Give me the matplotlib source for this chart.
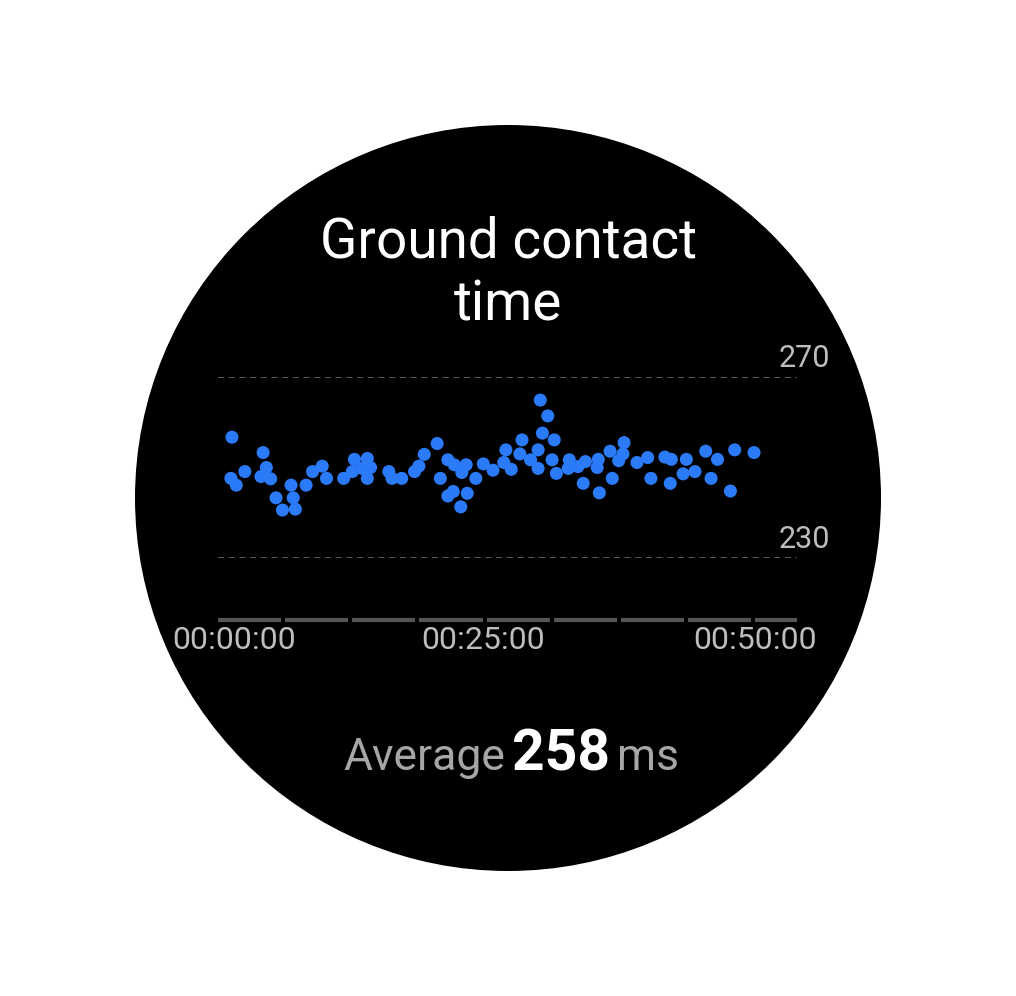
import numpy as np
import matplotlib.pyplot as plt
from matplotlib.patches import Circle

# ─── DATA ───────────────────────────────────────────────────────────────────
# elapsed time (minutes) and ground contact time (ms), read off the watch face
minutes = [1.2, 1.3, 1.7, 2.5, 4.0, 4.2, 4.5, 4.9, 5.4, 6.0, 6.8, 7.0, 7.2,
           8.2, 8.8, 9.7, 10.1, 11.7, 12.5, 12.7, 13.4, 13.9, 13.9, 14.2,
           15.9, 16.2, 17.1, 18.3, 18.7, 19.2, 20.4, 20.7, 21.4, 21.4, 21.9,
           22.0, 22.6, 22.7, 23.1, 23.2, 24.0, 24.7, 25.6, 26.6, 26.8, 27.3,
           28.1, 28.3, 29.1, 29.8, 29.8, 30.0, 30.2, 30.7, 31.1, 31.3, 31.5,
           32.6, 32.7, 33.5, 34.0, 34.2, 35.3, 35.4, 35.5, 36.5, 36.7, 37.3,
           37.7, 37.8, 39.0, 40.0, 40.3, 41.6, 42.2, 42.1, 43.6, 43.3, 44.4,
           45.4, 45.9, 46.5, 47.7, 48.1, 49.9]
gct_ms = [247.6, 256.7, 246.1, 249.1, 248.0, 253.3, 250.0, 247.5, 243.3,
          240.6, 246.1, 243.3, 240.8, 246.1, 249.1, 250.3, 247.6, 247.6,
          249.1, 251.8, 249.8, 252.0, 247.6, 250.0, 249.1, 247.6, 247.6,
          249.1, 250.3, 252.9, 255.3, 247.6, 251.7, 243.7, 244.7, 250.6,
          241.3, 248.9, 250.6, 244.3, 247.6, 250.8, 249.4, 251.1, 253.9,
          249.6, 253.0, 256.1, 251.7, 253.9, 249.8, 264.9, 257.6, 261.4,
          251.7, 256.1, 248.7, 249.8, 251.7, 250.2, 246.5, 251.3, 250.0,
          251.8, 244.4, 253.6, 247.6, 251.5, 253.0, 255.5, 251.1, 252.2,
          247.6, 252.3, 251.8, 246.5, 251.8, 248.6, 249.1, 253.6, 247.6,
          251.8, 244.8, 253.9, 253.3]

y_ticks = [230, 270]
x_ticks = [0, 25, 50]
x_labels = ["00:00:00", "00:25:00", "00:50:00"]
x_max = 53.9
seg_step = 6.25      # minutes between axis segments
average = 258

# ─── STYLE ──────────────────────────────────────────────────────────────────
W, H = 1016, 996
BLUE = "#2B7BF8"
TICK_COL = "#BDBDBD"
GRID_COL = "#737373"
SEG_COL = "#555555"
SUB_COL = "#A6A6A6"
FONT = "Roboto"

fig = plt.figure(figsize=(W / 100, H / 100), dpi=100, facecolor="white")

# background layer in pixel units (y down)
bg = fig.add_axes([0, 0, 1, 1])
bg.set_xlim(0, W)
bg.set_ylim(H, 0)
bg.axis("off")
bg.add_patch(Circle((508, 498), 373, facecolor="black", edgecolor="none"))

# baseline of the last line sits at y=320
bg.text(508, 320, "Ground contact\ntime", ha="center", va="baseline",
        fontsize=39.5, color="white", family=FONT, linespacing=1.22)

bg.text(505, 770, "Average", ha="right", va="baseline",
        fontsize=32, color=SUB_COL, family=FONT)
bg.text(561, 770, str(average), ha="center", va="baseline",
        fontsize=41, color="white", family=FONT, fontweight="bold")
bg.text(617, 770, "ms", ha="left", va="baseline",
        fontsize=32, color=SUB_COL, family=FONT)

# ─── CHART ──────────────────────────────────────────────────────────────────
x0, x1, ytop, ybot = 218, 797, 377, 558
ax = fig.add_axes([x0 / W, 1 - ybot / H, (x1 - x0) / W, (ybot - ytop) / H])
ax.set_facecolor("none")
ax.set_xlim(0, x_max)
ax.set_ylim(y_ticks[0], y_ticks[-1])
ax.axis("off")

for v in y_ticks:
    ax.axhline(v, color=GRID_COL, lw=1.1, ls=(0, (4, 3)), zorder=1)
    ax.annotate(str(v), xy=(1, v), xycoords=("axes fraction", "data"),
                xytext=(33, 19), textcoords="offset pixels",
                ha="right", va="center", fontsize=22, color=TICK_COL,
                family=FONT, annotation_clip=False)

ax.scatter(minutes, gct_ms, s=88, color=BLUE, edgecolors="none",
           zorder=3, clip_on=False)

# segmented time axis
seg_y = -(620 - ybot) / (ybot - ytop)
gap = 0.37
starts = np.arange(0, x_max, seg_step)
for s in starts:
    e = min(s + seg_step - gap, x_max)
    ax.plot([s, e], [seg_y, seg_y], transform=ax.get_xaxis_transform(),
            color=SEG_COL, lw=3, solid_capstyle="butt", clip_on=False)

lab_y = -(640 - ybot) / (ybot - ytop)
offsets = [16, -3, 0]
for t, lab, dx in zip(x_ticks, x_labels, offsets):
    ax.annotate(lab, xy=(t, lab_y), xycoords=("data", "axes fraction"),
                xytext=(dx, 0), textcoords="offset pixels",
                ha="center", va="center", fontsize=23, color=TICK_COL,
                family=FONT, annotation_clip=False)

fig.savefig("out.png", dpi=100, facecolor="white")
